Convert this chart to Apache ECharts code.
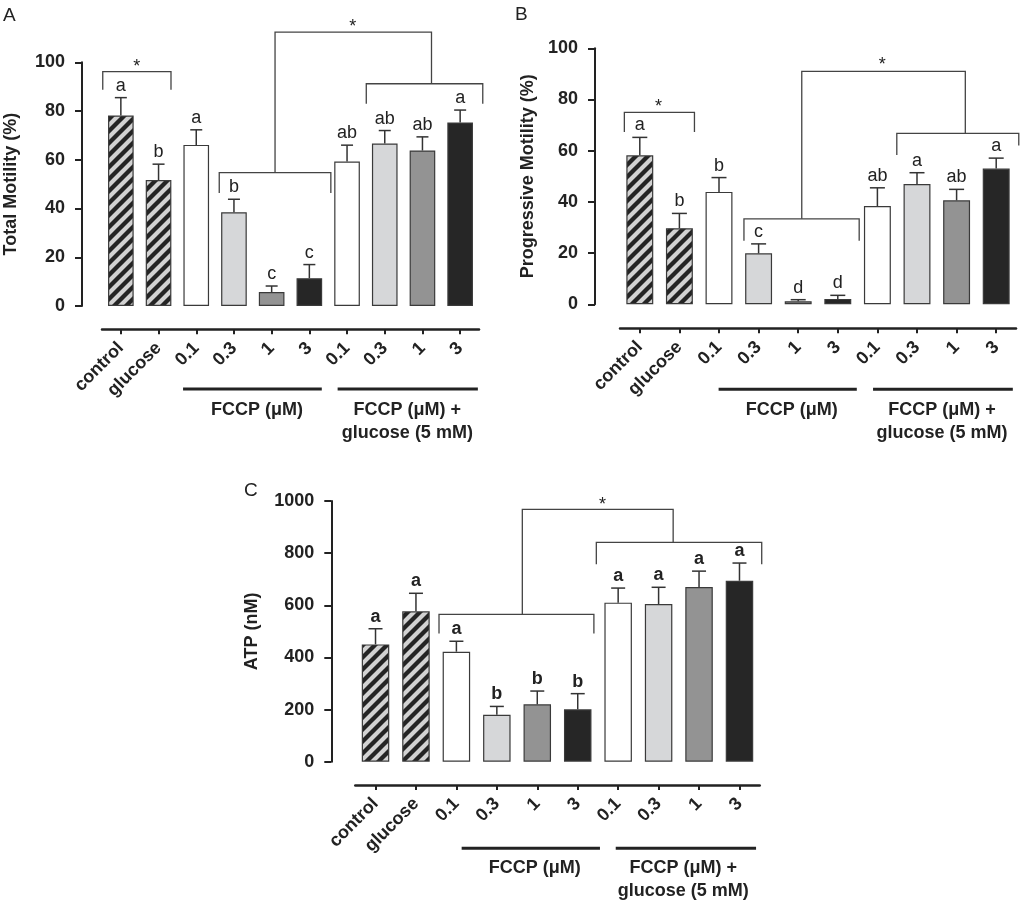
<!DOCTYPE html>
<html><head><meta charset="utf-8">
<script src="https://cdn.jsdelivr.net/npm/echarts@6/dist/echarts.min.js"></script>
<style>html,body{margin:0;padding:0;background:#fff}#c{width:1020px;height:901px}</style>
</head><body><div id="c"></div>
<script>
// ---------- data ----------
const categories = ['control','glucose','0.1','0.3','1','3','0.1','0.3','1','3'];

const meanA    = [78.2, 51.7, 66.1, 38.5, 5.7, 11.4, 59.3, 66.7, 63.8, 75.3];
const errTopA  = [85.5, 58.2, 72.3, 43.8, 8.2, 17.0, 66.0, 72.0, 69.4, 80.4];
const lettersA = ['a','b','a','b','c','c','ab','ab','ab','a'];

const meanB    = [58.2, 29.7, 43.9, 19.9, 1.2, 2.1, 38.4, 47.0, 40.6, 53.0];
const errTopB  = [65.2, 35.5, 49.5, 23.6, 1.8, 3.5, 45.5, 51.4, 44.9, 57.1];
const lettersB = ['a','b','b','c','d','d','ab','a','ab','a'];

const meanC    = [450, 577, 422, 180, 220, 201, 610, 605, 670, 694];
const errTopC  = [510, 646, 462, 212, 271, 261, 666, 669, 731, 762];
const lettersC = ['a','a','a','b','b','b','a','a','a','a'];

const yTitleA = 'Total Motility (%)';
const yTitleB = 'Progressive Motility (%)';
const yTitleC = 'ATP (nM)';
const yRangeMotility = [0, 100, 20];
const yRangeATP = [0, 1000, 200];

// significance brackets: [xStart, xEnd, yBar, yLegLeftEnd, yLegRightEnd] (category index, value)
const bracketsA = [[-0.48,1.33,96.2,88.7,88.7],[2.61,5.57,54.7,46.4,46.4],[6.51,9.6,91.2,83.0,83.0],[4.09,8.24,112.4,54.7,91.2]];
const starsA    = [[0.42,99.6],[6.15,116.1]];
const bracketsB = [[-0.39,1.38,75.0,67.3,67.3],[2.63,5.54,33.4,24.8,24.8],[6.49,9.57,66.8,58.3,62.0],[4.09,8.22,91.0,33.4,66.8]];
const starsB    = [[0.47,78.5],[6.12,95.0]];
const bracketsC = [[1.57,5.40,565,492,492],[5.46,9.55,841,757,757],[3.63,7.36,968,565,841]];
const starsC    = [[5.61,1000]];

// group labels under the x axis
const groupNames = ['FCCP (μM)', 'FCCP (μM) +\nglucose (5 mM)'];
const groupSpansA = [[1.65,5.33],[5.75,9.47]];
const groupSpansB = [[1.99,5.48],[5.89,9.42]];
const groupSpansC = [[2.13,5.55],[5.94,9.41]];
const groupTextXA = [3.61, 7.60];
const groupTextXB = [3.84, 7.63];
const groupTextXC = [3.94, 7.61];

// ---------- styles ----------
const FONT = "'Liberation Sans', Arial, Helvetica, sans-serif";
const INK = '#222';
function hatch(bg, fg){
  const s = 12, c = document.createElement('canvas');
  c.width = s; c.height = s;
  const g = c.getContext('2d');
  g.fillStyle = bg; g.fillRect(0,0,s,s);
  g.strokeStyle = fg; g.lineWidth = 4.3; g.lineCap = 'square';
  g.beginPath();
  g.moveTo(-s/2, s/2); g.lineTo(s/2, -s/2);
  g.moveTo(0, s); g.lineTo(s, 0);
  g.moveTo(s/2, s*1.5); g.lineTo(s*1.5, s/2);
  g.stroke();
  return c;
}
const hatchFill = {image: hatch('#d2d2d2', '#242424'), repeat: 'repeat'};
const fills = [hatchFill, hatchFill, '#ffffff', '#d6d7d9', '#939393', '#262626', '#ffffff', '#d6d7d9', '#939393', '#262626'];

const chart = echarts.init(document.getElementById('c'), null, {renderer:'canvas'});

function barSeries(gi, means){
  return {
    type:'bar', xAxisIndex: gi*2, yAxisIndex: gi, barWidth: '68%',
    data: means.map((v,i)=>({value:v, itemStyle:{color: fills[i], borderColor:'#3a3a3a', borderWidth:1.2}})),
    z: 2, silent: true
  };
}
function errSeries(gi, means, tops, letters, capW, bold){
  return {
    type:'custom', xAxisIndex: gi*2+1, yAxisIndex: gi, z: 5, silent: true,
    data: means.map((m,i)=>[i, m, tops[i]]),
    renderItem: (params, api) => {
      const i = api.value(0);
      const p0 = api.coord([i, api.value(1)]);
      const p1 = api.coord([i, api.value(2)]);
      return {type:'group', children:[
        {type:'line', shape:{x1:p0[0], y1:p0[1], x2:p1[0], y2:p1[1]}, style:{stroke:'#333', lineWidth:1.5}},
        {type:'line', shape:{x1:p1[0]-capW/2, y1:p1[1], x2:p1[0]+capW/2, y2:p1[1]}, style:{stroke:'#333', lineWidth:1.5}},
        {type:'text', x:p1[0], y:p1[1]-3, style:{text: letters[params.dataIndex], fontSize:18, fontFamily:FONT,
          fontWeight: bold ? 'bold' : 'normal', fill: INK, align:'center', verticalAlign:'bottom'}}
      ]};
    }
  };
}
function bracketSeries(gi, brackets, stars){
  const items = brackets.map(b=>({kind:'b', b})).concat(stars.map(s=>({kind:'s', s})));
  return {
    type:'custom', xAxisIndex: gi*2+1, yAxisIndex: gi, z: 6, silent: true, clip: false,
    data: items.map((it,i)=>[i, 0]),
    renderItem: (params, api) => {
      const it = items[params.dataIndex];
      if (it.kind === 'b') {
        const b = it.b;
        const pts = [[b[0],b[3]],[b[0],b[2]],[b[1],b[2]],[b[1],b[4]]].map(p=>api.coord(p));
        return {type:'polyline', shape:{points:pts}, style:{stroke:'#444', lineWidth:1.3, fill:null}};
      }
      const p = api.coord(it.s);
      return {type:'text', x:p[0], y:p[1]+4, style:{text:'*', fontSize:18, fontFamily:FONT, fill:INK, align:'center', verticalAlign:'middle'}};
    }
  };
}
function groupSeries(gi, spans, textX, off){
  return {
    type:'custom', xAxisIndex: gi*2+1, yAxisIndex: gi, z: 6, silent: true, clip: false,
    data: spans.map((s,i)=>[i, 0]),
    renderItem: (params, api) => {
      const k = params.dataIndex;
      const a = api.coord([spans[k][0], 0]);
      const b = api.coord([spans[k][1], 0]);
      const t = api.coord([textX[k], 0]);
      return {type:'group', children:[
        {type:'line', shape:{x1:a[0], y1:a[1]+off[0], x2:b[0], y2:b[1]+off[0]}, style:{stroke:INK, lineWidth:3}},
        {type:'text', x:t[0], y:t[1]+off[1]-11.5, style:{text: groupNames[k], fontSize:18, fontWeight:'bold', fontFamily:FONT,
          fill:INK, align:'center', verticalAlign:'top', lineHeight:23}}
      ]};
    }
  };
}

const grids = [
  {left:102, top:62.3, width:377, height:243.7},
  {left:620, top:48.3, width:396, height:256},
  {left:355.3, top:501, width:404.4, height:260.7}
];
const yOffsets = [20, 25, 24];
const xOffsets = [23.3, 24, 23.3];
const nameGaps = [62, 58, 70];
const yTitles = [yTitleA, yTitleB, yTitleC];
const yRanges = [yRangeMotility, yRangeMotility, yRangeATP];

const xAxes = [], yAxes = [];
grids.forEach((g, gi) => {
  xAxes.push({
    type:'category', gridIndex: gi, data: categories, offset: xOffsets[gi],
    axisLine:{show:true, onZero:false, lineStyle:{color:INK, width:2.5}},
    axisTick:{show:true, alignWithLabel:true, length:5, lineStyle:{color:INK, width:2}},
    axisLabel:{interval:0, rotate:45, margin:16, fontSize:18, fontWeight:'bold', fontFamily:FONT, color:INK},
    splitLine:{show:false}
  });
  xAxes.push({type:'value', gridIndex: gi, min:-0.5, max:9.5, show:false, axisLine:{onZero:false}});
  yAxes.push({
    type:'value', gridIndex: gi, min: yRanges[gi][0], max: yRanges[gi][1], interval: yRanges[gi][2], offset: yOffsets[gi],
    name: yTitles[gi], nameLocation:'middle', nameGap: nameGaps[gi],
    nameTextStyle:{fontSize:18, fontWeight:'bold', fontFamily:FONT, color:INK},
    axisLine:{show:true, onZero:false, lineStyle:{color:INK, width:2}},
    axisTick:{show:true, inside:false, length:7, lineStyle:{color:INK, width:2}},
    axisLabel:{margin:17, fontSize:18, fontWeight:'bold', fontFamily:FONT, color:INK, formatter: v => String(v)},
    splitLine:{show:false}
  });
});

const option = {
  animation:false,
  backgroundColor:'#fff',
  textStyle:{fontFamily:FONT},
  title:[
    {text:'A', left:3, top:6, padding:0, textStyle:{fontSize:19, fontWeight:'normal', color:INK, fontFamily:FONT}},
    {text:'B', left:515, top:5, padding:0, textStyle:{fontSize:19, fontWeight:'normal', color:INK, fontFamily:FONT}},
    {text:'C', left:244, top:481, padding:0, textStyle:{fontSize:19, fontWeight:'normal', color:INK, fontFamily:FONT}}
  ],
  grid: grids.map(g=>Object.assign({outerBoundsMode:'none', containLabel:false}, g)),
  xAxis: xAxes,
  yAxis: yAxes,
  series: [
    barSeries(0, meanA), errSeries(0, meanA, errTopA, lettersA, 12, false), bracketSeries(0, bracketsA, starsA), groupSeries(0, groupSpansA, groupTextXA, [83, 104]),
    barSeries(1, meanB), errSeries(1, meanB, errTopB, lettersB, 15, false), bracketSeries(1, bracketsB, starsB), groupSeries(1, groupSpansB, groupTextXB, [85, 106]),
    barSeries(2, meanC), errSeries(2, meanC, errTopC, lettersC, 14, true), bracketSeries(2, bracketsC, starsC), groupSeries(2, groupSpansC, groupTextXC, [86.6, 106.6])
  ]
};
chart.setOption(option);
</script></body></html>
